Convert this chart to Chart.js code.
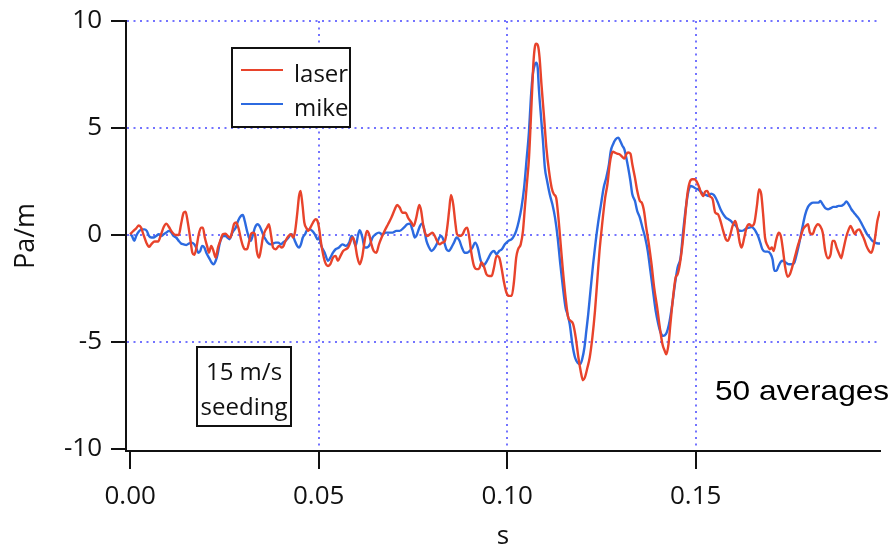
<!DOCTYPE html>
<html>
<head>
<meta charset="utf-8">
<title>laser x mike</title>
<script src="https://cdn.jsdelivr.net/npm/chart.js@4.4.1/dist/chart.umd.min.js"></script>
<style>
  html, body { margin: 0; padding: 0; background: #fff; }
</style>
</head>
<body>
<canvas id="grafico" width="894" height="545"></canvas>
<script>
// Dados: tempo (s) e gradiente de pressão (Pa/m)
const laserTime = [
  0.0000, 0.0007, 0.0016, 0.0023, 0.0029, 0.0035, 0.0043, 0.0050, 0.0056, 0.0065,
  0.0074, 0.0082, 0.0089, 0.0096, 0.0103, 0.0112, 0.0120, 0.0129, 0.0135, 0.0142,
  0.0147, 0.0153, 0.0159, 0.0165, 0.0170, 0.0175, 0.0182, 0.0188, 0.0193, 0.0198,
  0.0204, 0.0209, 0.0215, 0.0221, 0.0227, 0.0233, 0.0239, 0.0246, 0.0253, 0.0259,
  0.0266, 0.0271, 0.0276, 0.0281, 0.0287, 0.0294, 0.0299, 0.0304, 0.0310, 0.0315,
  0.0320, 0.0326, 0.0331, 0.0336, 0.0342, 0.0347, 0.0352, 0.0358, 0.0363, 0.0368,
  0.0374, 0.0379, 0.0386, 0.0395, 0.0402, 0.0407, 0.0412, 0.0420, 0.0427, 0.0432,
  0.0437, 0.0443, 0.0448, 0.0452, 0.0457, 0.0462, 0.0467, 0.0473, 0.0478, 0.0485,
  0.0492, 0.0497, 0.0501, 0.0507, 0.0516, 0.0525, 0.0531, 0.0538, 0.0545, 0.0551,
  0.0558, 0.0565, 0.0572, 0.0578, 0.0582, 0.0590, 0.0596, 0.0602, 0.0609, 0.0616,
  0.0622, 0.0628, 0.0634, 0.0640, 0.0646, 0.0653, 0.0660, 0.0667, 0.0675, 0.0684,
  0.0693, 0.0702, 0.0708, 0.0715, 0.0722, 0.0731, 0.0737, 0.0746, 0.0752, 0.0759,
  0.0767, 0.0772, 0.0777, 0.0782, 0.0788, 0.0795, 0.0802, 0.0808, 0.0814, 0.0821,
  0.0828, 0.0835, 0.0841, 0.0846, 0.0851, 0.0857, 0.0862, 0.0867, 0.0874, 0.0882,
  0.0888, 0.0894, 0.0899, 0.0905, 0.0912, 0.0919, 0.0926, 0.0932, 0.0938, 0.0945,
  0.0952, 0.0959, 0.0965, 0.0972, 0.0979, 0.0985, 0.0991, 0.0998, 0.1005, 0.1012,
  0.1018, 0.1024, 0.1029, 0.1036, 0.1042, 0.1047, 0.1053, 0.1058, 0.1063, 0.1067,
  0.1070, 0.1074, 0.1077, 0.1082, 0.1086, 0.1091, 0.1098, 0.1104, 0.1111, 0.1118,
  0.1124, 0.1130, 0.1136, 0.1142, 0.1148, 0.1155, 0.1162, 0.1169, 0.1175, 0.1182,
  0.1189, 0.1195, 0.1201, 0.1206, 0.1213, 0.1219, 0.1226, 0.1233, 0.1239, 0.1245,
  0.1252, 0.1260, 0.1266, 0.1272, 0.1277, 0.1281, 0.1286, 0.1292, 0.1298, 0.1306,
  0.1311, 0.1316, 0.1321, 0.1327, 0.1332, 0.1339, 0.1345, 0.1352, 0.1357, 0.1363,
  0.1369, 0.1376, 0.1383, 0.1390, 0.1398, 0.1405, 0.1412, 0.1418, 0.1422, 0.1428,
  0.1433, 0.1440, 0.1447, 0.1452, 0.1458, 0.1465, 0.1472, 0.1478, 0.1484, 0.1491,
  0.1497, 0.1504, 0.1510, 0.1514, 0.1520, 0.1525, 0.1531, 0.1537, 0.1545, 0.1552,
  0.1559, 0.1566, 0.1573, 0.1580, 0.1585, 0.1591, 0.1598, 0.1605, 0.1611, 0.1617,
  0.1622, 0.1629, 0.1635, 0.1642, 0.1649, 0.1656, 0.1663, 0.1668, 0.1674, 0.1679,
  0.1684, 0.1691, 0.1697, 0.1702, 0.1707, 0.1713, 0.1720, 0.1726, 0.1732, 0.1737,
  0.1744, 0.1750, 0.1757, 0.1764, 0.1771, 0.1778, 0.1785, 0.1792, 0.1798, 0.1803,
  0.1810, 0.1817, 0.1824, 0.1830, 0.1837, 0.1844, 0.1851, 0.1858, 0.1863, 0.1868,
  0.1874, 0.1881, 0.1886, 0.1891, 0.1899, 0.1906, 0.1911, 0.1916, 0.1922, 0.1927,
  0.1934, 0.1941, 0.1947, 0.1953, 0.1960, 0.1966, 0.1971, 0.1976, 0.1982, 0.1989
];
const laserValue = [
  0.03, 0.16, 0.31, 0.44, 0.34, 0.03, -0.36, -0.56, -0.44, -0.31,
  -0.31, 0.03, 0.37, 0.53, 0.37, 0.11, 0.00, 0.00, 0.50, 1.04,
  1.09, 0.58, -0.12, -0.83, -0.93, -0.67, 0.03, 0.34, 0.34, -0.12,
  -0.51, -0.83, -0.51, -0.75, -1.06, -0.59, -0.28, 0.03, 0.06, -0.05,
  -0.12, 0.19, 0.53, 0.58, 0.34, -0.20, -0.51, -0.67, -0.67, -0.36,
  0.03, 0.11, 0.03, -0.75, -1.06, -0.67, -0.12, 0.19, 0.34, 0.50,
  -0.05, -0.59, -0.67, -0.51, -0.59, -0.51, -0.28, -0.05, 0.03, -0.12,
  0.11, 0.97, 1.82, 2.06, 1.43, 0.58, 0.34, 0.19, 0.34, 0.58,
  0.73, 0.65, 0.34, -0.44, -1.21, -1.45, -1.37, -1.06, -0.98, -1.21,
  -0.98, -0.75, -0.67, -0.59, -0.44, -0.12, -0.36, -0.98, -1.37, -0.98,
  -0.28, 0.19, 0.03, -0.44, -0.75, -0.83, -0.44, -0.12, 0.19, 0.50,
  0.81, 1.20, 1.40, 1.28, 1.04, 1.04, 0.81, 0.58, 0.42, 0.81,
  1.40, 1.12, 0.50, 0.11, -0.05, 0.03, 0.11, -0.05, -0.28, -0.44,
  -0.36, -0.28, 0.34, 1.12, 1.87, 1.43, 0.65, 0.03, -0.05, 0.03,
  0.26, 0.34, -0.05, -0.83, -1.45, -1.60, -1.56, -1.29, -1.45, -1.84,
  -1.92, -1.92, -1.53, -0.98, -1.06, -1.53, -2.15, -2.69, -2.85, -2.85,
  -2.20, -1.06, -0.67, -0.44, 0.19, 1.28, 2.52, 3.61, 5.48, 7.04,
  8.13, 8.83, 8.94, 8.83, 8.29, 7.04, 5.48, 4.08, 2.99, 2.21,
  1.90, 1.74, 0.81, -0.44, -1.68, -2.93, -3.86, -4.02, -4.17, -4.80,
  -5.73, -6.36, -6.79, -6.67, -6.20, -5.73, -4.80, -3.55, -2.15, -0.75,
  0.50, 1.74, 2.37, 3.30, 3.77, 3.89, 3.85, 3.80, 3.77, 3.64,
  3.57, 3.77, 3.85, 3.80, 3.30, 2.68, 2.06, 1.59, 1.51, 1.12,
  0.34, -0.44, -1.37, -2.46, -3.40, -4.33, -5.11, -5.42, -5.58, -5.11,
  -4.17, -2.93, -1.99, -1.84, -1.37, -0.44, 0.81, 1.90, 2.45, 2.60,
  2.60, 2.45, 2.20, 1.98, 1.82, 2.02, 2.06, 1.82, 1.67, 1.04,
  0.97, 0.65, 0.19, -0.20, -0.28, -0.05, 0.42, 0.65, 0.26, -0.36,
  -0.59, -0.12, 0.34, 0.50, 0.42, 0.58, 1.43, 2.13, 1.90, 0.97,
  -0.12, -0.51, -0.67, -0.59, -0.75, -0.28, 0.11, -0.05, -0.75, -1.45,
  -1.96, -1.84, -1.45, -0.98, -0.51, -0.12, 0.26, 0.42, 0.50, 0.11,
  0.03, 0.34, 0.50, 0.42, 0.11, -0.75, -1.09, -0.90, -0.28, -0.28,
  -0.59, -0.90, -1.09, -0.75, -0.12, 0.26, 0.42, 0.26, 0.03, 0.19,
  0.26, 0.03, -0.20, -0.51, -0.75, -0.83, -0.59, -0.12, 0.65, 1.12
];
const mikeTime = [
  0.0000, 0.0005, 0.0011, 0.0016, 0.0023, 0.0030, 0.0038, 0.0044, 0.0050, 0.0056,
  0.0062, 0.0069, 0.0076, 0.0082, 0.0089, 0.0096, 0.0103, 0.0109, 0.0115, 0.0122,
  0.0129, 0.0135, 0.0142, 0.0149, 0.0156, 0.0163, 0.0170, 0.0175, 0.0181, 0.0186,
  0.0191, 0.0197, 0.0202, 0.0209, 0.0216, 0.0221, 0.0227, 0.0232, 0.0237, 0.0243,
  0.0248, 0.0253, 0.0258, 0.0264, 0.0269, 0.0274, 0.0280, 0.0287, 0.0294, 0.0299,
  0.0304, 0.0310, 0.0315, 0.0320, 0.0326, 0.0331, 0.0338, 0.0343, 0.0349, 0.0354,
  0.0359, 0.0365, 0.0372, 0.0379, 0.0386, 0.0393, 0.0400, 0.0405, 0.0412, 0.0420,
  0.0427, 0.0432, 0.0437, 0.0443, 0.0448, 0.0453, 0.0458, 0.0464, 0.0469, 0.0476,
  0.0483, 0.0490, 0.0497, 0.0501, 0.0507, 0.0516, 0.0525, 0.0531, 0.0538, 0.0545,
  0.0554, 0.0563, 0.0572, 0.0581, 0.0587, 0.0591, 0.0598, 0.0605, 0.0609, 0.0616,
  0.0622, 0.0628, 0.0636, 0.0643, 0.0651, 0.0660, 0.0669, 0.0678, 0.0687, 0.0696,
  0.0706, 0.0715, 0.0726, 0.0735, 0.0742, 0.0749, 0.0755, 0.0759, 0.0767, 0.0773,
  0.0779, 0.0786, 0.0793, 0.0799, 0.0805, 0.0813, 0.0820, 0.0825, 0.0832, 0.0839,
  0.0846, 0.0852, 0.0859, 0.0866, 0.0873, 0.0880, 0.0887, 0.0894, 0.0901, 0.0908,
  0.0915, 0.0922, 0.0929, 0.0936, 0.0944, 0.0951, 0.0958, 0.0965, 0.0972, 0.0979,
  0.0986, 0.0994, 0.1003, 0.1012, 0.1018, 0.1024, 0.1031, 0.1038, 0.1045, 0.1052,
  0.1058, 0.1063, 0.1068, 0.1074, 0.1077, 0.1081, 0.1084, 0.1090, 0.1095, 0.1100,
  0.1106, 0.1113, 0.1120, 0.1127, 0.1134, 0.1141, 0.1148, 0.1155, 0.1160, 0.1166,
  0.1173, 0.1180, 0.1187, 0.1194, 0.1199, 0.1205, 0.1210, 0.1215, 0.1221, 0.1228,
  0.1235, 0.1242, 0.1249, 0.1256, 0.1263, 0.1270, 0.1275, 0.1281, 0.1288, 0.1295,
  0.1300, 0.1306, 0.1311, 0.1316, 0.1321, 0.1327, 0.1332, 0.1339, 0.1345, 0.1352,
  0.1359, 0.1366, 0.1373, 0.1380, 0.1387, 0.1394, 0.1401, 0.1407, 0.1414, 0.1421,
  0.1426, 0.1431, 0.1438, 0.1445, 0.1452, 0.1460, 0.1467, 0.1474, 0.1481, 0.1487,
  0.1493, 0.1500, 0.1507, 0.1514, 0.1520, 0.1527, 0.1534, 0.1541, 0.1548, 0.1553,
  0.1559, 0.1566, 0.1573, 0.1580, 0.1587, 0.1594, 0.1601, 0.1607, 0.1614, 0.1621,
  0.1628, 0.1635, 0.1642, 0.1649, 0.1656, 0.1661, 0.1667, 0.1672, 0.1677, 0.1684,
  0.1691, 0.1699, 0.1704, 0.1709, 0.1714, 0.1720, 0.1726, 0.1732, 0.1739, 0.1748,
  0.1757, 0.1762, 0.1769, 0.1776, 0.1783, 0.1791, 0.1798, 0.1805, 0.1812, 0.1819,
  0.1826, 0.1831, 0.1837, 0.1844, 0.1851, 0.1858, 0.1865, 0.1872, 0.1879, 0.1886,
  0.1893, 0.1900, 0.1906, 0.1913, 0.1920, 0.1927, 0.1934, 0.1941, 0.1948, 0.1955,
  0.1962, 0.1969, 0.1976, 0.1984, 0.1990
];
const mikeValue = [
  0.03, -0.05, -0.28, -0.05, 0.16, 0.26, 0.26, 0.19, -0.05, -0.12,
  -0.12, -0.05, 0.03, -0.05, 0.03, 0.11, 0.19, 0.11, -0.05, -0.12,
  -0.28, -0.40, -0.44, -0.47, -0.40, -0.36, -0.44, -0.59, -0.83, -0.75,
  -0.51, -0.59, -0.83, -1.06, -1.29, -1.37, -1.21, -0.90, -0.44, -0.12,
  -0.05, -0.05, -0.12, -0.20, 0.03, 0.19, 0.34, 0.69, 0.89, 0.93,
  0.65, 0.19, -0.12, -0.28, 0.03, 0.34, 0.50, 0.42, 0.19, -0.05,
  -0.20, -0.36, -0.44, -0.40, -0.36, -0.36, -0.44, -0.36, -0.28, -0.12,
  0.03, -0.05, -0.28, -0.51, -0.59, -0.44, -0.12, 0.03, 0.22, 0.26,
  0.19, 0.03, -0.20, -0.15, -0.51, -0.83, -1.21, -1.06, -0.83, -0.67,
  -0.59, -0.44, -0.51, -0.36, -0.05, -0.12, -0.51, 0.03, 0.22, -0.12,
  -0.59, -0.59, -0.44, -0.12, 0.03, 0.11, 0.03, 0.11, 0.11, 0.11,
  0.19, 0.19, 0.34, 0.50, 0.53, 0.22, -0.12, -0.05, 0.34, 0.53,
  0.34, -0.28, -0.59, -0.75, -0.67, -0.44, -0.12, -0.05, -0.28, -0.67,
  -0.75, -0.59, -0.36, -0.12, -0.25, -0.59, -0.83, -0.83, -0.75, -0.59,
  -0.36, -0.59, -1.14, -1.45, -1.29, -1.06, -0.83, -0.75, -0.90, -0.75,
  -0.67, -0.44, -0.28, -0.20, -0.05, 0.19, 0.65, 1.28, 2.21, 3.61,
  4.86, 6.42, 7.51, 7.98, 8.05, 7.82, 6.88, 5.48, 4.39, 3.15,
  2.52, 1.90, 1.43, 0.81, -0.12, -1.37, -2.46, -3.40, -3.71, -4.17,
  -5.11, -5.73, -5.97, -6.04, -5.81, -5.26, -4.49, -3.71, -2.62, -1.37,
  -0.28, 0.65, 1.43, 2.21, 2.68, 3.30, 3.93, 4.24, 4.47, 4.55,
  4.39, 4.16, 4.00, 3.61, 3.15, 2.52, 1.90, 1.59, 1.12, 0.81,
  0.34, -0.12, -0.75, -1.68, -2.62, -3.55, -4.17, -4.56, -4.72, -4.64,
  -4.41, -4.02, -3.24, -2.31, -1.53, -1.06, 0.19, 1.28, 2.06, 2.29,
  2.25, 2.17, 2.13, 2.02, 1.90, 1.87, 1.82, 1.93, 1.87, 1.74,
  1.51, 1.20, 0.97, 0.81, 0.73, 0.65, 0.50, 0.42, 0.22, 0.19,
  0.22, 0.31, 0.34, 0.37, 0.26, 0.11, -0.12, -0.40, -0.67, -0.78,
  -0.78, -0.90, -1.14, -1.68, -1.68, -1.45, -1.25, -1.21, -1.29, -1.37,
  -1.37, -1.29, -0.83, -0.28, 0.34, 0.97, 1.31, 1.46, 1.51, 1.51,
  1.51, 1.59, 1.43, 1.25, 1.20, 1.25, 1.31, 1.31, 1.36, 1.36,
  1.43, 1.56, 1.43, 1.20, 1.04, 0.89, 0.73, 0.50, 0.26, 0.03,
  -0.12, -0.28, -0.36, -0.40, -0.40
];
const seriesNames = ['laser', 'mike'];
const seriesColors = ['#e8432b', '#2c6ae0'];
const xTickValues = [0, 0.05, 0.10, 0.15];
const xTickLabels = ['0.00', '0.05', '0.10', '0.15'];
const yTickValues = [-10, -5, 0, 5, 10];
const yTickLabels = ['-10', '-5', '0', '5', '10'];
const notaCaixa = ['15 m/s', 'seeding'];
const notaDireita = '50 averages';

const fonteEixo = "'Open Sans', 'DejaVu Sans', sans-serif";
const corTexto = '#111';
const corGrade = 'rgba(100, 100, 255, 0.9)';
const transparente = 'rgba(0,0,0,0)';

function pontos(tempos, valores) {
    return tempos.map((t, i) => ({ x: t, y: valores[i] }));
}

// Legenda e notas desenhadas por cima do gráfico
const notas = {
    id: 'notas',
    afterDraw(chart) {
        const ctx = chart.ctx;
        ctx.save();

        // caixa da legenda
        ctx.fillStyle = '#fff';
        ctx.fillRect(232, 48, 118, 79);
        ctx.strokeStyle = corTexto;
        ctx.lineWidth = 2;
        ctx.strokeRect(232, 48, 118, 79);
        ctx.font = "24px " + fonteEixo;
        ctx.textBaseline = 'alphabetic';
        ctx.textAlign = 'left';
        chart.data.datasets.forEach((ds, i) => {
            const y = 70 + i * 34;
            ctx.strokeStyle = ds.borderColor;
            ctx.lineWidth = 2;
            ctx.beginPath();
            ctx.moveTo(241, y);
            ctx.lineTo(283, y);
            ctx.stroke();
            ctx.fillStyle = corTexto;
            ctx.fillText(ds.label, 294, y + 12);
        });

        // caixa "15 m/s seeding"
        ctx.fillStyle = '#fff';
        ctx.fillRect(197, 347, 94, 79);
        ctx.strokeStyle = corTexto;
        ctx.lineWidth = 2;
        ctx.strokeRect(197, 347, 94, 79);
        ctx.fillStyle = corTexto;
        ctx.textAlign = 'center';
        ctx.fillText(notaCaixa[0], 244, 380);
        ctx.fillText(notaCaixa[1], 244, 415);

        // "50 averages"
        ctx.font = "28px 'Liberation Sans', Arial, sans-serif";
        ctx.textAlign = 'left';
        ctx.fillStyle = '#000';
        ctx.translate(715, 400);
        ctx.scale(1.13, 1);
        ctx.fillText(notaDireita, 0, 0);
        ctx.restore();
    }
};

const ctx = document.getElementById('grafico').getContext('2d');
const grafico = new Chart(ctx, {
    type: 'line',
    data: {
        datasets: [{
            label: seriesNames[0],
            data: pontos(laserTime, laserValue),
            borderColor: seriesColors[0],
            borderWidth: 2.4,
            pointRadius: 0,
            fill: false,
            cubicInterpolationMode: 'monotone'
        },
        {
            label: seriesNames[1],
            data: pontos(mikeTime, mikeValue),
            borderColor: seriesColors[1],
            borderWidth: 2.4,
            pointRadius: 0,
            fill: false,
            cubicInterpolationMode: 'monotone'
        }]
    },
    options: {
        responsive: false,
        animation: false,
        devicePixelRatio: 1,
        layout: { padding: { top: 21, right: 14, left: 0, bottom: 0 } },
        plugins: {
            legend: { display: false },
            tooltip: { enabled: false }
        },
        scales: {
            x: {
                type: 'linear',
                min: -0.0011,
                max: 0.1989,
                afterBuildTicks: s => { s.ticks = xTickValues.map(v => ({ value: v })); },
                afterFit: s => {
                    s.height = 94;
                    s.paddingLeft = 0;
                    s.paddingRight = 0;
                },
                ticks: {
                    callback: (v, i) => xTickLabels[i],
                    font: { family: fonteEixo, size: 26 },
                    color: corTexto,
                    padding: 12,
                    maxRotation: 0,
                    autoSkip: false
                },
                grid: {
                    color: c => (c.tick && c.tick.value === 0) ? transparente : corGrade,
                    lineWidth: 2,
                    tickColor: corTexto,
                    tickWidth: 2,
                    tickLength: 18
                },
                border: { color: corTexto, width: 2, dash: [2, 4.5] },
                title: {
                    display: true,
                    text: 's',
                    color: corTexto,
                    font: { family: fonteEixo, size: 26, lineHeight: 0.62 },
                    padding: 0
                }
            },
            y: {
                min: -10.1,
                max: 10,
                afterBuildTicks: s => { s.ticks = yTickValues.map(v => ({ value: v })); },
                afterFit: s => {
                    s.width = 126;
                    s.paddingTop = 0;
                    s.paddingBottom = 0;
                },
                ticks: {
                    callback: (v, i) => yTickLabels[i],
                    font: { family: fonteEixo, size: 26 },
                    color: corTexto,
                    padding: 9
                },
                grid: {
                    color: c => (c.tick && c.tick.value === -10) ? transparente : corGrade,
                    lineWidth: 2,
                    tickColor: corTexto,
                    tickWidth: 2,
                    tickLength: 15
                },
                border: { color: corTexto, width: 2, dash: [2, 4.5] },
                title: {
                    display: true,
                    text: 'Pa/m',
                    color: corTexto,
                    font: { family: fonteEixo, size: 27, lineHeight: 1 },
                    padding: { top: 13, bottom: 0 }
                }
            }
        }
    },
    plugins: [notas]
});
</script>
</body>
</html>
